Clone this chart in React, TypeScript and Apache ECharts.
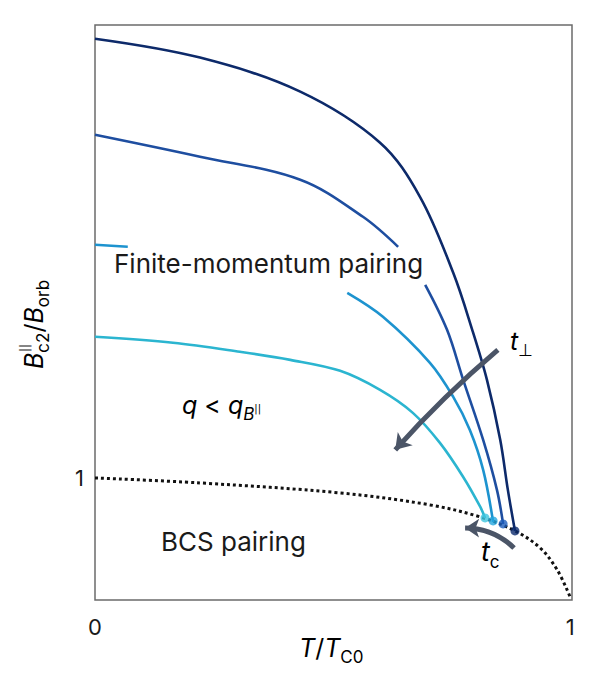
import { useEffect, useRef } from 'react';
import * as echarts from 'echarts';

const FONT = 'Inter, "Noto Sans", sans-serif';
const INK = '#1a1a1a';

// T/Tc0 and Bc2/Borb values
const navyT = [0, 0.221, 0.432, 0.6, 0.684, 0.754, 0.794, 0.825, 0.853, 0.869, 0.884];
const navyB = [4.598, 4.443, 4.164, 3.746, 3.303, 2.68, 2.213, 1.803, 1.311, 0.902, 0.566];

// second curve is broken where the label sits
const blueTopT = [0, 0.221, 0.432, 0.564, 0.638];
const blueTopB = [3.811, 3.631, 3.443, 3.139, 2.893];
const blueLowT = [0.695, 0.741, 0.775, 0.817, 0.846, 0.859];
const blueLowB = [2.582, 2.213, 1.803, 1.311, 0.902, 0.623];

const skyTopT = [0, 0.069];
const skyTopB = [2.91, 2.893];
const skyLowT = [0.531, 0.606, 0.705, 0.754, 0.789, 0.817, 0.838];
const skyLowB = [2.516, 2.32, 1.943, 1.664, 1.393, 1.066, 0.639];

const cyanT = [0, 0.164, 0.305, 0.411, 0.516, 0.6, 0.669, 0.726, 0.775, 0.811, 0.821];
const cyanB = [2.156, 2.107, 2.033, 1.967, 1.877, 1.721, 1.533, 1.287, 1.008, 0.762, 0.672];

// BCS limit (dotted)
const bcsT = [0, 0.221, 0.516, 0.705, 0.811, 0.884, 0.937, 0.973, 1.0];
const bcsB = [1.0, 0.959, 0.877, 0.779, 0.68, 0.566, 0.426, 0.246, 0.025];

// end points sitting on the BCS line
const dotT = [0.821, 0.838, 0.859, 0.884];
const dotB = [0.672, 0.648, 0.623, 0.566];
const dotColors = ['#3fc6df', '#23a6de', '#1b5cbc', '#0b2a6e'];

// arrows: [start, end]
const tPerpArrow = [[0.848, 2.049], [0.632, 1.23]];
const tcArrow = [[0.882, 0.426], [0.779, 0.59]];

const xTickLabels = ['0', '1'];
const yTickLabels = ['1'];

const pairs = (t: number[], b: number[]) => t.map((v, i) => [v, b[i]]);

const curve = (t: number[], b: number[], color: string) => ({
  type: 'line',
  data: pairs(t, b),
  smooth: 0.35,
  showSymbol: false,
  symbol: 'none',
  lineStyle: { color, width: 2.6 },
  z: 3,
});

export default function App() {
  const ref = useRef<HTMLDivElement>(null);

  useEffect(() => {
    if (!ref.current) return;
    const chart = echarts.init(ref.current, undefined, { renderer: 'svg' });

    const sub = { fontFamily: FONT, fontSize: 17, color: INK, verticalAlign: 'bottom', lineHeight: 17 };
    const ital = { fontFamily: FONT, fontSize: 25, fontStyle: 'italic', color: INK, verticalAlign: 'bottom', lineHeight: 25, padding: [0, 0, 5, 0] };
    const norm = { fontFamily: FONT, fontSize: 25, color: INK, verticalAlign: 'bottom', lineHeight: 25, padding: [0, 0, 5, 0] };
    const bars = { fontFamily: 'DejaVu Sans', fontSize: 10, color: INK, verticalAlign: 'bottom', lineHeight: 10, padding: [0, 0, 9, 0] };

    const option: any = {
      animation: false,
      grid: { left: 95, right: 18, top: 25, bottom: 95, show: true, borderColor: '#6b6b6b', borderWidth: 1.5 },
      xAxis: {
        type: 'value', min: 0, max: 1.004, interval: 1,
        axisLine: { show: false }, axisTick: { show: false }, splitLine: { show: false },
        axisLabel: {
          margin: 16, fontSize: 22, color: INK, fontFamily: FONT,
          formatter: (v: number) => (xTickLabels.includes(String(v)) ? String(v) : ''),
        },
      },
      yAxis: {
        type: 'value', min: 0, max: 4.71, interval: 1,
        axisLine: { show: false }, axisTick: { show: false }, splitLine: { show: false },
        axisLabel: {
          margin: 11, fontSize: 22, color: INK, fontFamily: FONT,
          formatter: (v: number) => (yTickLabels.includes(String(v)) ? String(v) : ''),
        },
      },
      series: [
        {
          type: 'line',
          data: pairs(bcsT, bcsB),
          smooth: 0.35,
          symbol: 'none',
          lineStyle: { color: '#111', width: 3, type: [3, 3] },
          z: 2,
        },
        curve(cyanT, cyanB, '#2bb5d0'),
        curve(skyTopT, skyTopB, '#1d93cf'),
        curve(skyLowT, skyLowB, '#1d93cf'),
        curve(blueTopT, blueTopB, '#1e4ea0'),
        curve(blueLowT, blueLowB, '#1e4ea0'),
        curve(navyT, navyB, '#0d2a6a'),
        {
          type: 'scatter',
          data: dotT.map((t, i) => ({ value: [t, dotB[i]], itemStyle: { color: dotColors[i] } })),
          symbolSize: 9,
          z: 5,
        },
        {
          type: 'lines',
          coordinateSystem: 'cartesian2d',
          symbol: ['none', 'arrow'],
          symbolSize: 15,
          lineStyle: { color: '#4b5567', width: 5, curveness: -0.035, opacity: 1 },
          data: [{ coords: tPerpArrow }],
          z: 6,
        },
        {
          type: 'lines',
          coordinateSystem: 'cartesian2d',
          symbol: ['none', 'arrow'],
          symbolSize: 14,
          lineStyle: { color: '#4b5567', width: 5, curveness: -0.2, opacity: 1 },
          data: [{ coords: tcArrow }],
          z: 6,
        },
      ],
      graphic: [
        {
          type: 'text', left: 114, top: 250,
          style: { text: 'Finite-momentum pairing', fontFamily: FONT, fontSize: 26, fill: INK },
        },
        {
          type: 'text', x: 182, y: 397,
          style: {
            text: '{i|q}{n| < }{i|q}{b|B}{p|||}',
            rich: {
              i: ital, n: norm,
              b: { ...sub, fontStyle: 'italic' },
              p: bars,
            },
          },
        },
        {
          type: 'text', left: 161, top: 528,
          style: { text: 'BCS pairing', fontFamily: FONT, fontSize: 26, fill: INK },
        },
        {
          type: 'text', x: 510, y: 333,
          style: { text: '{i|t}{s|⊥}', rich: { i: ital, s: { ...sub, fontFamily: 'DejaVu Sans' } } },
        },
        {
          type: 'text', x: 481, y: 543,
          style: { text: '{i|t}{s|c}', rich: { i: { ...ital, fontSize: 27, lineHeight: 27 }, s: sub } },
        },
        {
          type: 'text', x: 299, y: 640,
          style: { text: '{i|T}{n|/}{i|T}{s|C0}', rich: { i: ital, n: norm, s: sub } },
        },
        {
          type: 'group', x: 26, y: 369, rotation: Math.PI / 2,
          children: [
            {
              type: 'text', x: 0, y: 0,
              style: { text: '{i|B}{s|c2}{n|/}{i|B}{s|orb}', rich: { i: ital, n: norm, s: sub } },
            },
            {
              type: 'text', x: 17, y: -7,
              style: { text: '||', fontFamily: 'DejaVu Sans', fontSize: 12, fill: INK },
            },
          ],
        },
      ],
    };

    chart.setOption(option);
    return () => chart.dispose();
  }, []);

  return <div ref={ref} style={{ position: 'fixed', left: 0, top: 0, width: 590, height: 695, background: '#fff' }} />;
}
